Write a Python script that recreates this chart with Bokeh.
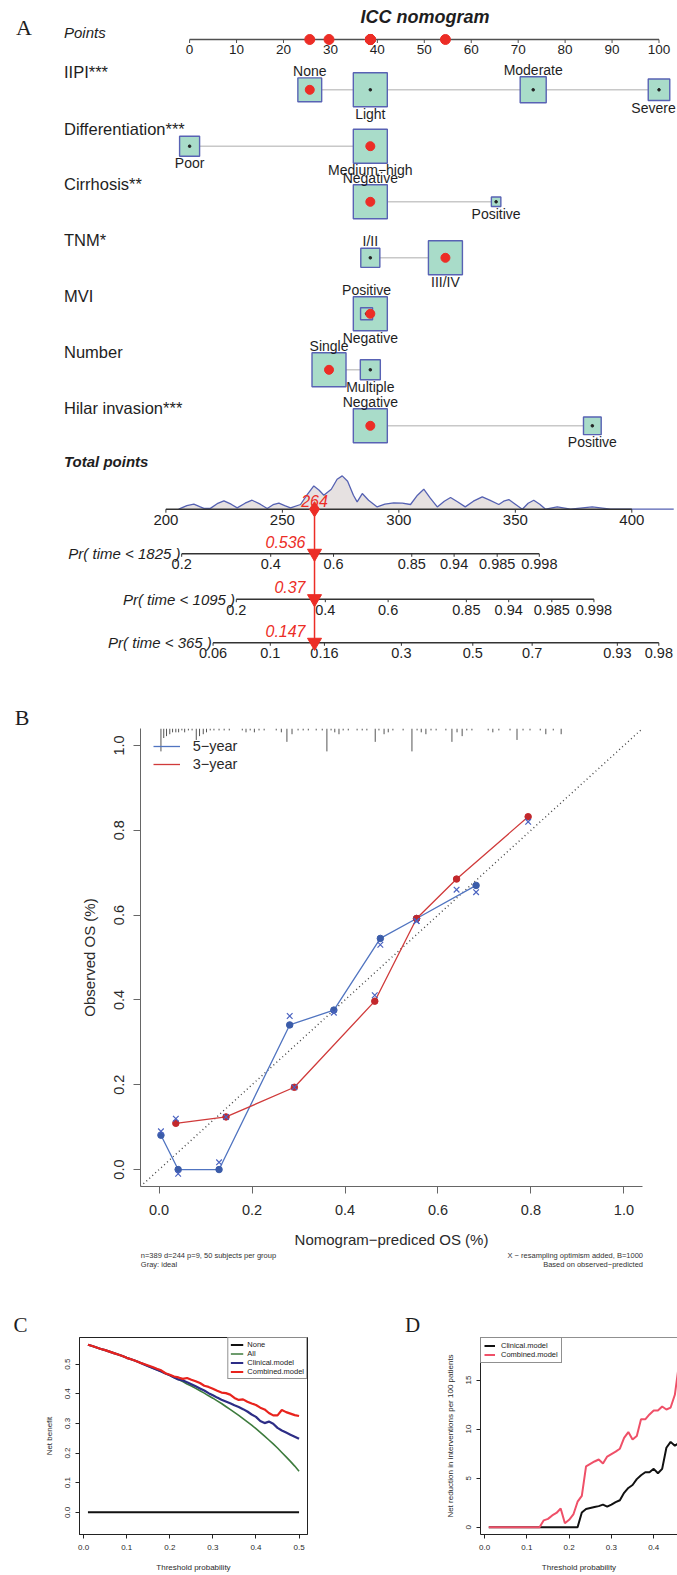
import math
from bokeh.plotting import figure
from bokeh.models import Range1d, Legend, LegendItem, Span, FixedTicker, NumeralTickFormatter
from bokeh.layouts import row
from bokeh.embed import file_html
from bokeh.resources import INLINE
from bokeh.core.properties import value

SANS = "Liberation Sans"
SERIF = "Liberation Serif"
INK = "#1e1e1e"

# ====================== DATA ======================
# ---- Panel A: nomogram ----
points_ticks = [0, 10, 20, 30, 40, 50, 60, 70, 80, 90, 100]
var_names = ["IIPI***", "Differentiation***", "Cirrhosis**", "TNM*", "MVI", "Number", "Hilar invasion***"]
iipi_levels = ["None", "Light", "Moderate", "Severe"]
iipi_points = [25.6, 38.5, 73.2, 100.0]
iipi_counts = [77, 157, 92, 63]
diff_levels = ["Poor", "Medium\u2212high"]
diff_points = [0.0, 38.5]
diff_counts = [100, 289]
cirr_levels = ["Negative", "Positive"]
cirr_points = [38.5, 65.3]
cirr_counts = [361, 28]
tnm_levels = ["I/II", "III/IV"]
tnm_points = [38.5, 54.5]
tnm_counts = [93, 296]
mvi_levels = ["Positive", "Negative"]
mvi_points = [37.7, 38.5]
mvi_counts = [43, 346]
number_levels = ["Single", "Multiple"]
number_points = [29.7, 38.5]
number_counts = [289, 100]
hilar_levels = ["Negative", "Positive"]
hilar_points = [38.5, 85.8]
hilar_counts = [306, 83]
patient_levels = ["None", "Medium\u2212high", "Negative", "III/IV", "Negative", "Single", "Negative"]

total_ticks = [200, 250, 300, 350, 400]
tp_grid = [205.5, 209, 212.0, 214.5, 216.3, 219.1, 222, 224.9, 228, 230.6, 234, 237.0, 240.5, 243.5,
           246, 248.5, 251, 253.5, 257.8, 260.5, 263.5, 265.8, 267.8, 271, 273.5, 275.7, 278, 280.5,
           282.1, 284.3, 287, 290.7, 294, 297.8, 301.5, 305.0, 308, 310.7, 313.5, 316.5, 319.5, 322.2,
           325.5, 328.5, 332, 335.8, 339, 342.9, 345, 347.2, 350, 353.0, 355.5, 357.9, 360.5, 363.0,
           368.0, 373.7, 383.0, 390.9, 418.0]
tp_density = [0, .105, .15, .075, .024, .024, .165, .249, .15, .039, .18, .27, .15, .021, .135, .18,
              .105, .039, .141, .42, .70, .57, .42, .60, .90, 1.0, .84, .42, .22, .47, .27, .069, .15,
              .19, .18, .141, .42, .60, .33, .069, .24, .35, .21, .069, .24, .37, .27, .141, .24, .29,
              .15, 0, .18, .27, .15, 0, .069, 0, .069, 0, 0]

pr_times = [1825, 1095, 365]
pr_observed = [0.536, 0.37, 0.147]
pr_ticks_1825 = [0.2, 0.4, 0.6, 0.85, 0.94, 0.985, 0.998]
pr_ticks_1095 = [0.2, 0.4, 0.6, 0.85, 0.94, 0.985, 0.998]
pr_ticks_365 = [0.06, 0.1, 0.16, 0.3, 0.5, 0.7, 0.93, 0.98]
cloglog_per_point = 0.02167

# ---- Panel B: calibration ----
cal5_pred = [0.004, 0.041, 0.129, 0.281, 0.376, 0.476, 0.554, 0.682]
cal5_obs = [0.081, 0.0, 0.0, 0.341, 0.376, 0.545, 0.592, 0.670]
cal5_corr = [0.090, -0.010, 0.017, 0.362, 0.370, 0.530, 0.586, 0.654]
cal3_pred = [0.036, 0.144, 0.291, 0.464, 0.554, 0.640, 0.794]
cal3_obs = [0.109, 0.124, 0.194, 0.397, 0.592, 0.685, 0.832]
cal3_corr = [0.120, 0.124, 0.194, 0.411, 0.586, 0.660, 0.820]
rug_pred = [0.004, 0.010, 0.016, 0.023, 0.029, 0.036, 0.042, 0.049, 0.055, 0.063, 0.071, 0.080, 0.087,
            0.095, 0.102, 0.110, 0.118, 0.129, 0.140, 0.151, 0.179, 0.187, 0.196, 0.205, 0.215, 0.226,
            0.252, 0.263, 0.275, 0.286, 0.299, 0.310, 0.321, 0.338, 0.351, 0.361, 0.370, 0.378, 0.387,
            0.396, 0.407, 0.426, 0.437, 0.447, 0.465, 0.473, 0.484, 0.493, 0.503, 0.525, 0.544, 0.555,
            0.564, 0.574, 0.585, 0.596, 0.617, 0.630, 0.641, 0.652, 0.662, 0.673, 0.708, 0.718, 0.731,
            0.755, 0.770, 0.783, 0.798, 0.820, 0.832, 0.848, 0.865]
rug_count = [12, 5, 4, 3, 2, 2, 2, 1, 2, 1, 1, 6, 4, 3, 2, 1, 1, 1, 1, 1, 1, 2, 1, 2, 1, 1,
             1, 2, 7, 3, 1, 1, 1, 1, 1, 12, 1, 2, 3, 1, 1, 1, 1, 1, 7, 1, 3, 2, 1, 1, 12, 1,
             2, 3, 1, 1, 1, 7, 2, 4, 1, 1, 1, 2, 1, 1, 6, 1, 1, 1, 3, 1, 3]
cal_note_left = ["n=389 d=244 p=9, 50 subjects per group", "Gray: ideal"]
cal_note_right = ["X \u2212 resampling optimism added, B=1000", "Based on observed\u2212predicted"]

# ---- Panels C and D: decision curves ----
thresholds = [0.01, 0.02, 0.03, 0.04, 0.05, 0.06, 0.07, 0.08, 0.09, 0.10, 0.11, 0.12, 0.13, 0.14, 0.15,
              0.16, 0.17, 0.18, 0.19, 0.20, 0.21, 0.22, 0.23, 0.24, 0.25, 0.26, 0.27, 0.28, 0.29, 0.30,
              0.31, 0.32, 0.33, 0.34, 0.35, 0.36, 0.37, 0.38, 0.39, 0.40, 0.41, 0.42, 0.43, 0.44, 0.45,
              0.46, 0.47, 0.48, 0.49, 0.50]
nb_none = [0.0] * len(thresholds)
nb_all = [0.565, 0.561, 0.556, 0.551, 0.547, 0.542, 0.537, 0.532, 0.527, 0.521, 0.516, 0.511, 0.505,
          0.499, 0.493, 0.487, 0.481, 0.475, 0.468, 0.462, 0.455, 0.448, 0.441, 0.433, 0.426, 0.418,
          0.410, 0.402, 0.393, 0.385, 0.376, 0.367, 0.357, 0.347, 0.337, 0.327, 0.316, 0.305, 0.294,
          0.282, 0.270, 0.257, 0.244, 0.231, 0.217, 0.202, 0.187, 0.172, 0.156, 0.139]
nb_clinical = [0.565, 0.561, 0.556, 0.551, 0.547, 0.542, 0.537, 0.532, 0.527, 0.521, 0.516, 0.511, 0.505,
               0.499, 0.493, 0.487, 0.481, 0.475, 0.468, 0.462, 0.455, 0.448, 0.445, 0.439, 0.432, 0.425,
               0.418, 0.411, 0.402, 0.395, 0.387, 0.380, 0.374, 0.368, 0.361, 0.355, 0.348, 0.340, 0.330,
               0.322, 0.308, 0.301, 0.306, 0.299, 0.285, 0.276, 0.269, 0.262, 0.255, 0.248]
nb_combined = [0.565, 0.561, 0.556, 0.551, 0.547, 0.542, 0.537, 0.532, 0.527, 0.521, 0.516, 0.511, 0.505,
               0.500, 0.495, 0.490, 0.484, 0.479, 0.469, 0.464, 0.458, 0.455, 0.450, 0.453, 0.447, 0.442,
               0.436, 0.427, 0.423, 0.417, 0.410, 0.404, 0.402, 0.397, 0.386, 0.379, 0.381, 0.373, 0.367,
               0.362, 0.353, 0.347, 0.335, 0.327, 0.327, 0.345, 0.338, 0.333, 0.328, 0.325]
nr_clinical = [0.0] * 22 + [1.5, 1.85, 1.95, 2.05, 2.15, 2.3, 2.1, 2.3, 2.55, 2.75, 3.5, 4.0, 4.3, 4.9,
                            5.3, 5.6, 5.6, 5.95, 5.5, 5.95, 8.1, 8.7, 8.3, 8.6, 9.2, 9.8, 10.3, 10.4]
nr_combined = [0.0] * 13 + [0.7, 0.85, 1.2, 1.45, 1.9, 0.4, 0.75, 1.3, 2.6, 3.2, 6.2, 6.45, 6.7, 6.9,
                            6.5, 7.2, 7.45, 7.7, 8.0, 9.1, 9.7, 8.95, 9.3, 11.0, 11.0, 11.5, 11.9, 11.9,
                            12.3, 12.0, 12.2, 13.5, 16.7, 17.0, 17.5, 18.0, 18.6]
panel_letters = ["A", "B", "C", "D"]


# ====================== HELPERS ======================
def T(p, x, y, s, px, color=INK, align="center", baseline="middle", style="normal", font=SANS, angle=0):
    p.text(x=[x], y=[y], text=[s], text_font=value(font), text_font_size=value(f"{px}px"),
           text_color=color, text_align=align, text_baseline=baseline,
           text_font_style=style, angle=angle)


def cloglog(p):
    return math.log(-math.log(1.0 - p))


def canvas(w, h, x0, x1, y_top, y_bottom):
    p = figure(width=w, height=h, x_range=Range1d(x0, x1), y_range=Range1d(y_bottom, y_top),
               x_axis_location=None, y_axis_location=None, min_border=0,
               output_backend="svg", toolbar_location=None)
    p.grid.visible = False
    p.outline_line_color = None
    return p


# ====================== PANEL A ======================
PX0, PXU = 189.1, 4.694          # reference pixel of 0 points, pixels per point


def px2pt(px):
    return (px - PX0) / PXU


def tp2x(t):
    return px2pt(165.4 + (t - 200.0) * 2.3295)


pA = canvas(677, 728, px2pt(0), px2pt(677), 0, 728)

RED = "#ec2d26"
BOX_FILL = "#a9dcc9"
BOX_LINE = "#5862b4"
AXC = "#505050"

T(pA, px2pt(23.5), 26.5, panel_letters[0], 22, font=SERIF)
T(pA, px2pt(21.5), 716.5, panel_letters[1], 22, font=SERIF)
T(pA, px2pt(424.6), 16.7, "ICC nomogram", 18, style="bold italic")
T(pA, px2pt(63.5), 32.3, "Points", 15, align="left", style="italic")

AX_Y = 39.0
n = len(points_ticks)
pA.segment(x0=[points_ticks[0]], y0=[AX_Y], x1=[points_ticks[-1]], y1=[AX_Y], line_color=AXC, line_width=1.6)
pA.segment(x0=points_ticks, y0=[AX_Y] * n, x1=points_ticks, y1=[AX_Y + 3.5] * n, line_color=AXC, line_width=1)
pA.text(x=points_ticks, y=[48.5] * n, text=[str(v) for v in points_ticks], text_font=value(SANS),
        text_font_size=value("13.5px"), text_color=INK, text_align="center", text_baseline="middle")

variables = [
    (var_names[0], iipi_levels, iipi_points, iipi_counts),
    (var_names[1], diff_levels, diff_points, diff_counts),
    (var_names[2], cirr_levels, cirr_points, cirr_counts),
    (var_names[3], tnm_levels, tnm_points, tnm_counts),
    (var_names[4], mvi_levels, mvi_points, mvi_counts),
    (var_names[5], number_levels, number_points, number_counts),
    (var_names[6], hilar_levels, hilar_points, hilar_counts),
]
ROW_Y = [89.3, 145.7, 201.3, 257.3, 313.3, 369.3, 425.3]
SIDES = [["above", "below", "above", "below"], ["below", "below"], ["above", "below"],
         ["above", "below"], ["above", "below"], ["above", "below"], ["above", "below"]]
BOX_MAX = 34.0
RIGHT_LIMIT = px2pt(676 - 23)     # keep category labels inside the canvas

patient_pts = []
red_x, red_y = [], []
for i, (name, levels, pts, cnts) in enumerate(variables):
    y = ROW_Y[i]
    T(pA, px2pt(63.5), y - 17.6, name, 16.5, align="left")
    pA.segment(x0=[min(pts)], y0=[y], x1=[max(pts)], y1=[y], line_color="#c8c8c8", line_width=1.6)
    sizes = [BOX_MAX * math.sqrt(c / max(cnts)) for c in cnts]
    order = sorted(range(len(levels)), key=lambda k: -sizes[k])
    pA.rect(x=[pts[k] for k in order], y=[y] * len(order), width=[sizes[k] for k in order],
            height=[sizes[k] for k in order], width_units="screen", height_units="screen",
            fill_color=BOX_FILL, line_color=BOX_LINE, line_width=1.4)
    for k in order:
        if levels[k] == patient_levels[i]:
            patient_pts.append(pts[k])
            red_x.append(pts[k])
            red_y.append(y)
        else:
            pA.scatter(x=[pts[k]], y=[y], size=2.6, color="#222222")
    for k in range(len(levels)):
        s_eff = max(sizes[j] for j in range(len(levels)) if abs(pts[j] - pts[k]) < 3)
        off = s_eff / 2 + 7.0
        ly = y - off if SIDES[i][k] == "above" else y + off
        T(pA, min(pts[k], RIGHT_LIMIT), ly, levels[k], 14)

pA.scatter(x=red_x, y=red_y, size=9, color=RED)
pA.scatter(x=patient_pts, y=[AX_Y] * len(patient_pts), size=10, color=RED)

total_obs = sum(patient_pts)

# total points
T(pA, px2pt(63.5), 460.7, "Total points", 15, align="left", style="bold italic")
BASE = 508.7
dxs = [tp2x(t) for t in tp_grid]
dys = [BASE - d * 33.3 for d in tp_density]
pA.patch(dxs, dys, fill_color="#e6e1e1", line_color=None)
pA.line(dxs, dys, line_color="#5561b2", line_width=1.3)
tx = [tp2x(t) for t in total_ticks]
pA.segment(x0=[tx[0]], y0=[BASE], x1=[tx[-1]], y1=[BASE], line_color="#333333", line_width=1.6)
pA.segment(x0=tx, y0=[BASE] * len(tx), x1=tx, y1=[BASE + 3.5] * len(tx), line_color="#333333", line_width=1)
pA.text(x=tx, y=[519.5] * len(tx), text=[str(t) for t in total_ticks], text_font=value(SANS),
        text_font_size=value("15px"), text_color=INK, text_align="center", text_baseline="middle")

# probability axes
PR_Y = [553.3, 598.7, 642.3]
pr_ticks = [pr_ticks_1825, pr_ticks_1095, pr_ticks_365]
obs_x = tp2x(total_obs)
for j in range(3):
    yy = PR_Y[j]
    tks = pr_ticks[j]
    xs = [tp2x(total_obs + (cloglog(pv) - cloglog(pr_observed[j])) / cloglog_per_point) for pv in tks]
    pA.segment(x0=[xs[0]], y0=[yy], x1=[xs[-1]], y1=[yy], line_color="#333333", line_width=1.6)
    pA.segment(x0=xs, y0=[yy] * len(xs), x1=xs, y1=[yy + 3.0] * len(xs), line_color="#333333", line_width=1)
    pA.text(x=xs, y=[yy + 10.5] * len(xs), text=[("%g" % v) for v in tks], text_font=value(SANS),
            text_font_size=value("14.5px"), text_color=INK, text_align="center", text_baseline="middle")
    T(pA, xs[0] - 1.2 / PXU, yy, "Pr( time < %d )" % pr_times[j], 15, align="right", style="italic")

# red observation overlay
pA.segment(x0=[obs_x], y0=[BASE], x1=[obs_x], y1=[PR_Y[-1]], line_color=RED, line_width=1.5)
pA.scatter(x=[obs_x], y=[BASE], marker="diamond", size=15, color=RED)
pA.scatter(x=[obs_x] * 3, y=[yv - 0.5 for yv in PR_Y], marker="inverted_triangle", size=14, color=RED)
T(pA, obs_x, BASE - 8.0, "%d" % round(total_obs), 16, color=RED, style="italic")
for j in range(3):
    T(pA, obs_x - 9.0 / PXU, PR_Y[j] - 12.3, "%g" % pr_observed[j], 16, color=RED, align="right", style="italic")


# ====================== PANEL B ======================
BLUE = "#3b5ca9"
BRED = "#c3282c"


def style_axis(ax, font_px, color="#2a2a2a", line_color="#555555", tick_out=7, standoff=9, label_standoff=14):
    ax.axis_line_color = line_color
    ax.major_tick_line_color = line_color
    ax.major_tick_out = tick_out
    ax.major_tick_in = 0
    ax.minor_tick_line_color = None
    ax.major_label_text_font = SANS
    ax.major_label_text_font_size = f"{font_px}px"
    ax.major_label_text_color = color
    ax.major_label_standoff = standoff
    ax.axis_label_text_font = SANS
    ax.axis_label_text_font_style = "normal"
    ax.axis_label_text_color = color
    ax.axis_label_standoff = label_standoff


pB = figure(width=677, height=523, x_range=Range1d(-0.04, 1.04), y_range=Range1d(-0.04, 1.04),
            min_border_left=140, min_border_right=35, min_border_top=0, min_border_bottom=65,
            output_backend="svg", toolbar_location=None)
pB.grid.visible = False
pB.outline_line_color = None
for ax in (pB.xaxis[0], pB.yaxis[0]):
    style_axis(ax, 14.5, line_color="#666666")
    ax.ticker = FixedTicker(ticks=[0, 0.2, 0.4, 0.6, 0.8, 1.0])
    ax.formatter = NumeralTickFormatter(format="0.0")
    ax.axis_label_text_font_size = "15px"
pB.xaxis[0].major_label_standoff = 11
pB.xaxis[0].axis_label_standoff = 13
pB.yaxis[0].major_label_orientation = "vertical"
pB.xaxis[0].axis_label = "Nomogram\u2212prediced OS (%)"
pB.yaxis[0].axis_label = "Observed OS (%)"

lo, hi = pB.x_range.start, pB.x_range.end
pB.line([lo, hi], [lo, hi], line_color="#444444", line_width=1.4, line_dash="1 3")
top = pB.y_range.end
pB.segment(x0=rug_pred, y0=[top] * len(rug_pred), x1=rug_pred, y1=[top - c * 0.0045 for c in rug_count],
           line_color="#555555", line_width=1)
l5 = pB.line(cal5_pred, cal5_obs, line_color="#5074c0", line_width=1.3)
pB.scatter(cal5_pred, cal5_obs, size=6.5, color=BLUE)
l3 = pB.line(cal3_pred, cal3_obs, line_color="#d03a3a", line_width=1.3)
pB.scatter(cal3_pred, cal3_obs, size=6.5, color=BRED)
pB.scatter(cal5_pred, cal5_corr, marker="x", size=8, line_color="#4b63c0", line_width=1.2)
pB.scatter(cal3_pred, cal3_corr, marker="x", size=8, line_color="#4b63c0", line_width=1.2)

legB = Legend(items=[LegendItem(label="5\u2212year", renderers=[l5]), LegendItem(label="3\u2212year", renderers=[l3])],
              location=(12.7, 413), padding=0, margin=0, spacing=0, glyph_width=27, glyph_height=18,
              label_height=18, label_standoff=13, border_line_color=None, background_fill_alpha=0,
              label_text_font=SANS, label_text_font_size="14.5px", label_text_color="#2a2a2a")
pB.add_layout(legB)

# ---- notes strip under panel B (also holds the C / D letters) ----
pN = canvas(677, 85, 0, 677, 1251, 1336)
for k, s in enumerate(cal_note_left):
    T(pN, 140.3, 1254.5 + 9.0 * k, s, 7.5, color="#333333", align="left")
for k, s in enumerate(cal_note_right):
    T(pN, 642.5, 1254.5 + 9.0 * k, s, 7.5, color="#333333", align="right")
T(pN, 20.0, 1324.5, panel_letters[2], 21, font=SERIF)
T(pN, 412.0, 1324.5, panel_letters[3], 21, font=SERIF)

# ====================== PANEL C ======================
pC = figure(width=340, height=239, x_range=Range1d(-0.0096, 0.5196), y_range=Range1d(-0.0746, 0.5896),
            min_border_left=79, min_border_right=33, min_border_top=1, min_border_bottom=41,
            output_backend="svg", toolbar_location=None)
pC.grid.visible = False
pC.outline_line_color = "#222222"
for ax in (pC.xaxis[0], pC.yaxis[0]):
    style_axis(ax, 8, line_color="#222222", tick_out=4, standoff=6, label_standoff=10)
    ax.axis_label_text_font_size = "8px"
    ax.formatter = NumeralTickFormatter(format="0.0")
pC.xaxis[0].ticker = FixedTicker(ticks=[0, 0.1, 0.2, 0.3, 0.4, 0.5])
pC.yaxis[0].ticker = FixedTicker(ticks=[0, 0.1, 0.2, 0.3, 0.4, 0.5])
pC.yaxis[0].major_label_orientation = "vertical"
pC.yaxis[0].major_label_standoff = 5
pC.yaxis[0].axis_label_standoff = 9
pC.xaxis[0].axis_label = "Threshold probability"
pC.yaxis[0].axis_label = "Net benefit"

c_none = pC.line(thresholds, nb_none, line_color="#111111", line_width=2)
c_all = pC.line(thresholds, nb_all, line_color="#3d7b3d", line_width=1.6)
c_cli = pC.line(thresholds, nb_clinical, line_color="#2d2d86", line_width=2.2)
c_com = pC.line(thresholds, nb_combined, line_color="#e8231d", line_width=2.2)
legC = Legend(items=[LegendItem(label="None", renderers=[c_none]), LegendItem(label="All", renderers=[c_all]),
                     LegendItem(label="Clinical.model", renderers=[c_cli]),
                     LegendItem(label="Combined.model", renderers=[c_com])],
              location="top_right", padding=2, margin=0, spacing=0, glyph_width=13, glyph_height=7,
              label_height=7, label_standoff=4, border_line_color="#222222", border_line_width=1,
              background_fill_color="white", label_text_font=SANS, label_text_font_size="7.5px",
              label_text_color="#222222")
pC.add_layout(legC)

# ====================== PANEL D ======================
pD = figure(width=337, height=239, x_range=Range1d(-0.0096, (677 - 484) / 423.0), y_range=Range1d(-0.744, 19.34),
            min_border_left=140, min_border_right=0, min_border_top=1, min_border_bottom=41,
            output_backend="svg", toolbar_location=None)
pD.grid.visible = False
pD.outline_line_color = None
for ax in (pD.xaxis[0], pD.yaxis[0]):
    style_axis(ax, 8, line_color="#222222", tick_out=4, standoff=6, label_standoff=10)
    ax.axis_label_text_font_size = "8px"
pD.xaxis[0].ticker = FixedTicker(ticks=[0, 0.1, 0.2, 0.3, 0.4, 0.5])
pD.xaxis[0].formatter = NumeralTickFormatter(format="0.0")
pD.yaxis[0].ticker = FixedTicker(ticks=[0, 5, 10, 15])
pD.yaxis[0].major_label_orientation = "vertical"
pD.yaxis[0].major_label_standoff = 5
pD.yaxis[0].axis_label_standoff = 9
pD.xaxis[0].axis_label = "Threshold probability"
pD.yaxis[0].axis_label = "Net reduction in interventions per 100 patients"
pD.add_layout(Span(location=pD.y_range.end, dimension="width", line_color="#222222", line_width=1.2))

d_cli = pD.line(thresholds, nr_clinical, line_color="#111111", line_width=2)
d_com = pD.line(thresholds, nr_combined, line_color="#ef5068", line_width=2)
legD = Legend(items=[LegendItem(label="Clinical.model", renderers=[d_cli]),
                     LegendItem(label="Combined.model", renderers=[d_com])],
              location="top_left", padding=3, margin=0, spacing=0, glyph_width=11, glyph_height=7,
              label_height=7, label_standoff=6, border_line_color="#222222", border_line_width=1,
              background_fill_color="white", label_text_font=SANS, label_text_font_size="7.5px",
              label_text_color="#222222")
pD.add_layout(legD)

open("out.html", "w").write(file_html([pA, pB, pN, row(pC, pD, spacing=0)], INLINE))
